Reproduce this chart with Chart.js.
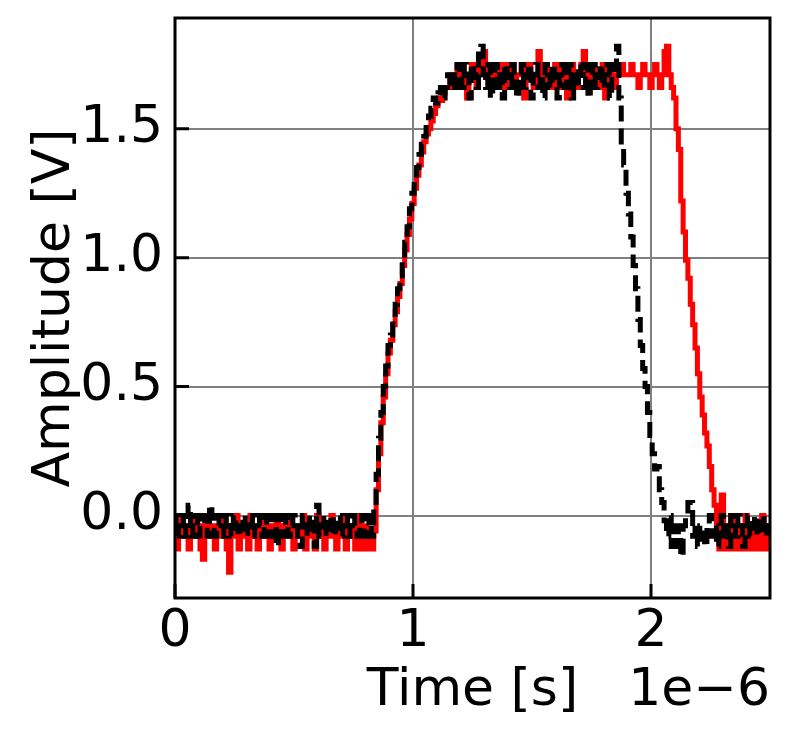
<!DOCTYPE html>
<html>
<head>
<meta charset="utf-8">
<script src="https://cdn.jsdelivr.net/npm/chart.js@4.4.1/dist/chart.umd.min.js"></script>
<style>
  html, body { margin: 0; padding: 0; background: #fff; }
  canvas { display: block; }
</style>
</head>
<body>
<canvas id="myChart" width="790" height="741"></canvas>
<script>
// sampled every 10 ns, 0 .. 2.5 us
const sampleStep = 1e-8;

// red trace (solid)
const redVolts = [
  -0.04,-0.13,-0.04,0.00,-0.08,-0.04,-0.13,-0.04,-0.08,0.00,
  -0.04,-0.13,-0.17,-0.04,0.00,-0.08,-0.04,-0.13,-0.04,-0.08,
  -0.04,0.00,-0.13,-0.22,-0.04,-0.08,0.00,-0.13,-0.04,-0.08,
  -0.04,-0.13,0.00,-0.04,-0.08,-0.13,-0.04,0.00,-0.08,-0.04,
  -0.13,-0.04,-0.08,0.00,-0.04,-0.13,-0.08,-0.04,0.00,-0.08,
  -0.13,-0.04,-0.08,-0.04,0.00,-0.13,-0.04,-0.08,-0.04,-0.13,
  0.00,-0.08,-0.04,-0.13,-0.04,-0.08,0.00,-0.04,-0.13,-0.08,
  -0.04,0.00,-0.13,-0.04,-0.08,-0.04,-0.13,0.00,-0.08,-0.13,
  -0.04,-0.13,-0.08,-0.13,
  -0.06,0.10,0.24,0.36,0.46,0.55,0.63,0.68,0.74,0.79,
  0.85,0.90,0.97,1.03,1.09,1.15,1.21,1.27,1.32,1.36,
  1.41,1.45,1.48,1.50,1.53,1.56,1.59,1.62,1.61,1.64,
  1.66,1.66,1.71,1.66,1.71,1.75,1.71,
  1.75,1.66,1.62,1.71,1.75,1.71,1.66,1.75,1.71,1.80,
  1.71,1.66,1.75,1.71,1.66,1.71,1.75,1.71,1.66,1.75,
  1.71,1.75,1.66,1.71,1.71,1.75,1.62,1.71,1.75,1.71,
  1.66,1.71,1.80,1.71,1.66,1.75,1.71,1.71,1.66,1.75,
  1.71,1.66,1.75,1.71,1.62,1.71,1.75,1.71,1.66,1.71,
  1.75,1.80,1.71,1.66,1.71,1.75,1.71,1.66,1.71,1.75,
  1.62,1.71,1.75,1.71,1.66,1.71,1.71,1.75,1.71,1.71,
  1.71,1.75,1.71,1.71,1.66,1.71,1.75,1.71,1.71,1.66,
  1.71,1.75,1.71,1.66,1.71,1.80,1.82,1.71,1.66,
  1.62,1.50,1.42,1.22,1.10,0.99,0.92,0.82,0.74,0.65,
  0.55,0.46,0.39,0.32,0.27,0.19,0.10,0.04,-0.08,-0.13,
  0.08,-0.13,-0.04,-0.13,0.00,-0.08,-0.13,-0.04,-0.13,-0.08,
  0.00,-0.13,-0.04,-0.13,-0.08,-0.04,-0.13,0.00,-0.13,-0.08,-0.04
];

// black trace (dashed)
const blackVolts = [
  0.00,-0.08,-0.04,0.00,-0.08,-0.04,0.04,-0.08,-0.04,0.00,
  -0.08,-0.04,0.00,-0.04,-0.08,0.04,0.00,-0.08,-0.04,0.00,
  -0.04,-0.08,0.00,-0.04,-0.08,0.00,-0.04,-0.08,-0.04,0.00,
  -0.08,-0.04,0.00,-0.08,-0.04,0.00,-0.04,-0.08,0.00,-0.04,
  -0.08,0.00,-0.04,-0.12,0.00,-0.08,-0.04,0.00,-0.08,-0.04,
  0.00,-0.04,-0.08,-0.12,0.00,-0.04,-0.08,0.00,-0.04,-0.12,
  0.04,-0.08,-0.04,0.00,-0.08,-0.04,0.00,-0.08,-0.04,0.00,
  -0.08,-0.04,0.00,-0.08,-0.04,0.00,-0.04,-0.08,-0.04,0.00,
  -0.08,-0.04,0.00,
  -0.08,0.04,0.16,0.30,0.40,0.50,0.58,0.66,0.70,0.77,
  0.82,0.88,0.93,1.00,1.06,1.12,1.19,1.25,1.30,1.35,
  1.40,1.44,1.47,1.52,1.55,1.58,1.62,1.60,1.64,1.66,
  1.62,1.66,1.71,1.66,1.71,1.66,1.75,1.71,
  1.66,1.75,1.71,1.62,1.75,1.71,1.66,1.80,1.82,1.71,
  1.66,1.75,1.62,1.71,1.75,1.66,1.71,1.62,1.75,1.71,
  1.66,1.75,1.71,1.62,1.71,1.75,1.66,1.71,1.75,1.62,
  1.71,1.75,1.66,1.71,1.62,1.75,1.71,1.66,1.75,1.71,
  1.62,1.71,1.75,1.66,1.71,1.75,1.62,1.71,1.66,1.75,
  1.71,1.66,1.75,1.62,1.71,1.75,1.66,1.71,1.75,1.66,
  1.71,1.75,1.62,1.71,1.75,1.82,
  1.62,1.43,1.36,1.25,1.17,1.08,0.97,0.88,0.76,0.66,
  0.57,0.50,0.40,0.31,0.24,0.18,0.19,0.10,0.05,-0.02,
  -0.08,0.00,-0.12,-0.04,-0.12,-0.04,-0.16,-0.04,0.00,0.05,
  0.05,-0.08,-0.04,-0.12,-0.04,-0.08,-0.12,-0.04,0.00,-0.08,
  -0.04,-0.12,-0.04,0.00,-0.08,-0.04,-0.12,0.00,-0.04,-0.08,
  0.00,-0.04,-0.12,-0.04,0.00,-0.08,-0.04,0.00,-0.08,-0.04,
  0.00,-0.08,-0.04,-0.08
];

const xTicks = [0, 1e-6, 2e-6];
const yTicks = [0.0, 0.5, 1.0, 1.5];

const toPoints = (arr) => arr.map((v, i) => ({x: i * sampleStep, y: v}));

const FONT = 'DejaVu Sans';
const FONT_SIZE = 52;
Chart.defaults.color = '#000';
Chart.defaults.font.family = FONT;
Chart.defaults.font.size = FONT_SIZE;

// matplotlib-ish frame, inward ticks and the 1e-6 offset text
const axesDecor = {
  id: 'axesDecor',
  afterDatasetsDraw(chart) {
    const {ctx, chartArea: a, scales} = chart;
    const x = scales.x, y = scales.y;
    ctx.save();
    ctx.strokeStyle = '#000';
    ctx.lineWidth = 3;
    ctx.beginPath();
    x.ticks.forEach(t => {
      const px = x.getPixelForValue(t.value);
      ctx.moveTo(px, a.bottom);
      ctx.lineTo(px, a.bottom - 14);
    });
    y.ticks.forEach(t => {
      const py = y.getPixelForValue(t.value);
      ctx.moveTo(a.left, py);
      ctx.lineTo(a.left + 14, py);
    });
    ctx.stroke();
    ctx.strokeRect(a.left, a.top, a.right - a.left, a.bottom - a.top);

    ctx.font = FONT_SIZE + 'px "' + FONT + '"';
    ctx.fillStyle = '#000';
    ctx.textAlign = 'right';
    ctx.textBaseline = 'middle';
    ctx.fillText('1e\u22126', a.right, x.bottom - 18 - FONT_SIZE * 1.2 / 2);
    ctx.restore();
  }
};

new Chart(document.getElementById('myChart'), {
  type: 'line',
  data: {
    datasets: [
      {
        label: 'black',
        data: toPoints(blackVolts),
        borderColor: '#000',
        borderWidth: 5,
        borderDash: [16, 7],
        pointRadius: 0,
        stepped: 'middle',
        order: 0
      },
      {
        label: 'red',
        data: toPoints(redVolts),
        borderColor: '#ff0000',
        borderWidth: 5,
        pointRadius: 0,
        stepped: 'middle',
        order: 1
      }
    ]
  },
  options: {
    responsive: false,
    animation: false,
    devicePixelRatio: 1,
    layout: { padding: { top: 18, right: 20, left: 0, bottom: 0 } },
    plugins: { legend: { display: false }, tooltip: { enabled: false } },
    scales: {
      x: {
        type: 'linear',
        min: 0,
        max: 2.5e-6,
        afterBuildTicks: (s) => { s.ticks = xTicks.map(v => ({value: v})); },
        afterFit: (s) => { s.height = 143; s.paddingLeft = 0; s.paddingRight = 0; },
        ticks: {
          padding: 3,
          callback: (v) => String(Math.round(v / 1e-6))
        },
        grid: { color: '#808080', lineWidth: 2, drawTicks: false },
        border: { display: false },
        title: { display: true, text: 'Time [s]', padding: { top: 0, bottom: 18 } }
      },
      y: {
        type: 'linear',
        min: -0.32,
        max: 1.93,
        afterBuildTicks: (s) => { s.ticks = yTicks.map(v => ({value: v})); },
        afterFit: (s) => { s.width = 175; s.paddingTop = 0; s.paddingBottom = 0; },
        ticks: {
          padding: 12,
          callback: (v) => v.toFixed(1)
        },
        grid: { color: '#808080', lineWidth: 2, drawTicks: false },
        border: { display: false },
        title: { display: true, text: 'Amplitude [V]', padding: { top: 24, bottom: 0 } }
      }
    }
  },
  plugins: [axesDecor]
});
</script>
</body>
</html>
